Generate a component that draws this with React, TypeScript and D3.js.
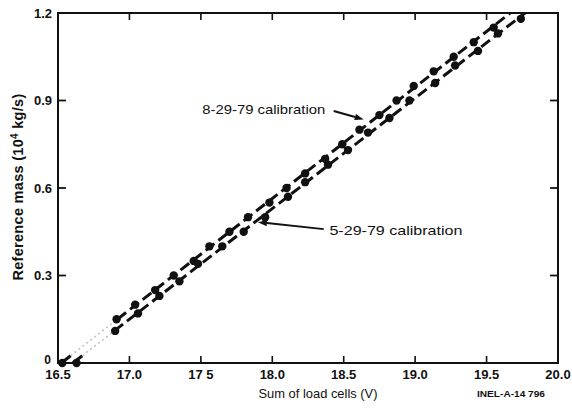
import React from "react";
import * as d3 from "d3";

const upperX = [16.53, 16.91, 17.04, 17.18, 17.31, 17.45, 17.56, 17.70, 17.83, 17.98, 18.10, 18.23, 18.37, 18.49, 18.61, 18.75, 18.87, 18.99, 19.13, 19.27, 19.41, 19.55];
const upperY = [0, 0.15, 0.20, 0.25, 0.30, 0.35, 0.40, 0.45, 0.50, 0.55, 0.60, 0.65, 0.70, 0.75, 0.80, 0.85, 0.90, 0.95, 1.00, 1.05, 1.10, 1.15];
const lowerX = [16.63, 16.90, 17.06, 17.21, 17.35, 17.48, 17.65, 17.80, 17.95, 18.11, 18.23, 18.39, 18.53, 18.67, 18.82, 18.96, 19.14, 19.28, 19.44, 19.58, 19.74];
const lowerY = [0, 0.11, 0.17, 0.23, 0.28, 0.34, 0.40, 0.45, 0.50, 0.57, 0.62, 0.68, 0.73, 0.79, 0.84, 0.90, 0.96, 1.02, 1.07, 1.13, 1.18];

const xTicks = [16.5, 17.0, 17.5, 18.0, 18.5, 19.0, 19.5, 20.0];
const xTickLabels = ["16.5", "17.0", "17 5", "18.0", "18.5", "19.0", "19.5", "20.0"];
const yTicks = [0, 0.3, 0.6, 0.9, 1.2];
const yTickLabels = ["0", "0.3", "0.6", "0.9", "1.2"];

const upperLabel = "8-29-79 calibration";
const lowerLabel = "5-29-79 calibration";
// annotation anchors in data units: [textX, textY, arrowFromX, arrowFromY, arrowToX, arrowToY]
const upperAnno = [17.51, 0.855, 18.43, 0.864, 18.64, 0.835];
const lowerAnno = [18.40, 0.44, 18.36, 0.459, 17.90, 0.483];

const W = 572, H = 411;
const x = d3.scaleLinear().domain([16.5, 20.0]).range([58, 558]);
const y = d3.scaleLinear().domain([0, 1.2]).range([363, 13]);

function fit(xs: number[], ys: number[]) {
  const pts = xs.map((v, i) => [v, ys[i]]).filter((p) => p[1] > 0);
  const mx = d3.mean(pts, (p) => p[0])!;
  const my = d3.mean(pts, (p) => p[1])!;
  let num = 0, den = 0;
  pts.forEach((p) => { num += (p[0] - mx) * (p[1] - my); den += (p[0] - mx) ** 2; });
  const m = num / den;
  const b = my - m * mx;
  return (yy: number) => (yy - b) / m;
}

const font = "'Liberation Sans', Arial, Helvetica, sans-serif";

function Series({ xs, ys }: { xs: number[]; ys: number[] }) {
  const inv = fit(xs, ys);
  const firstY = ys[1];
  const line = d3.line<number>().x((v) => x(inv(v))).y((v) => y(v));
  return (
    <g>
      <path d={line([0, 0.025])!} stroke="#111" strokeWidth={3} fill="none" />
      <path d={line([0.025, firstY])!} stroke="#bbb" strokeWidth={1.4} strokeDasharray="2,3" fill="none" />
      <path d={line([firstY, 1.2])!} stroke="#111" strokeWidth={3} strokeDasharray="11,5" fill="none" />
      {xs.map((v, i) => (
        <circle key={i} cx={x(v)} cy={y(ys[i])} r={4.2} fill="#111" />
      ))}
    </g>
  );
}

function Anno({ a, label, len }: { a: number[]; label: string; len: number }) {
  const [tx, ty, fx, fy, ex, ey] = a;
  const x1 = x(fx), y1 = y(fy), x2 = x(ex), y2 = y(ey);
  const ang = Math.atan2(y2 - y1, x2 - x1);
  const L = 9, Wd = 3.2;
  const bx = x2 - L * Math.cos(ang), by = y2 - L * Math.sin(ang);
  const p1 = [bx + Wd * Math.sin(ang), by - Wd * Math.cos(ang)];
  const p2 = [bx - Wd * Math.sin(ang), by + Wd * Math.cos(ang)];
  return (
    <g>
      <text x={x(tx)} y={y(ty)} fontSize={13.5} fontFamily={font} fill="#111" textLength={len} lengthAdjust="spacingAndGlyphs">{label}</text>
      <line x1={x1} y1={y1} x2={bx} y2={by} stroke="#111" strokeWidth={2} />
      <polygon points={`${x2},${y2} ${p1[0]},${p1[1]} ${p2[0]},${p2[1]}`} fill="#111" />
    </g>
  );
}

export default function App() {
  const [x0, x1] = x.range();
  const [y0, y1] = y.range();
  return (
    <svg width={W} height={H} style={{ position: "absolute", left: 0, top: 0, background: "#fff" }}>
      <rect x={0} y={0} width={W} height={H} fill="#fff" />
      <rect x={x0} y={y1} width={x1 - x0} height={y0 - y1} fill="none" stroke="#111" strokeWidth={2} />
      {xTicks.slice(1, -1).map((t) => (
        <g key={"xt" + t}>
          <line x1={x(t)} x2={x(t)} y1={y0} y2={y0 - 7} stroke="#111" strokeWidth={1.6} />
          <line x1={x(t)} x2={x(t)} y1={y1} y2={y1 + 7} stroke="#111" strokeWidth={1.6} />
        </g>
      ))}
      {yTicks.slice(1, -1).map((t) => (
        <g key={"yt" + t}>
          <line x1={x0} x2={x0 + 8} y1={y(t)} y2={y(t)} stroke="#111" strokeWidth={1.8} />
          <line x1={x1} x2={x1 - 8} y1={y(t)} y2={y(t)} stroke="#111" strokeWidth={1.8} />
        </g>
      ))}
      {xTicks.map((t, i) => (
        <text key={"xl" + t} x={x(t)} y={379} textAnchor="middle" fontSize={13} fontWeight="bold" fontFamily={font} fill="#111">
          {xTickLabels[i]}
        </text>
      ))}
      {yTicks.map((t, i) => (
        <text key={"yl" + t} x={t === 0 ? 51 : 52} y={y(t) + (t === 0 ? 0.5 : 4.5)} textAnchor="end" fontSize={t === 0 ? 12 : 13} fontWeight="bold" fontFamily={font} fill="#111">
          {yTickLabels[i]}
        </text>
      ))}
      <text x={318} y={398} textAnchor="middle" fontSize={13.5} fontFamily={font} fill="#111" textLength={119} lengthAdjust="spacingAndGlyphs">Sum of load cells (V)</text>
      <text x={477} y={397} fontSize={9} fontWeight="bold" fontFamily={font} fill="#111" textLength={68} lengthAdjust="spacingAndGlyphs">INEL-A-14 796</text>
      <text transform={`translate(23,187) rotate(-90)`} textAnchor="middle" fontSize={14.5} letterSpacing={0.3} fontWeight="bold" fontFamily={font} fill="#111">
        Reference mass (10<tspan fontSize={10} dy={-5}>4</tspan><tspan dy={5}> kg/s)</tspan>
      </text>
      <Series xs={upperX} ys={upperY} />
      <Series xs={lowerX} ys={lowerY} />
      <Anno a={upperAnno} label={upperLabel} len={123} />
      <Anno a={lowerAnno} label={lowerLabel} len={133} />
    </svg>
  );
}
